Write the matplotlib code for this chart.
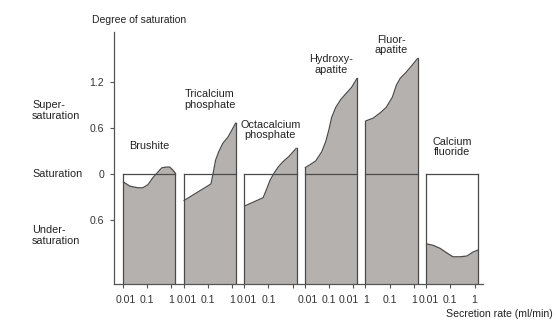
import matplotlib
matplotlib.use("Agg")
import matplotlib.pyplot as plt
from matplotlib.transforms import blended_transform_factory, ScaledTranslation
import numpy as np

plt.rcParams['font.family'] = ['Liberation Sans Narrow', 'Liberation Sans', 'DejaVu Sans']

# ---- data: log10(secretion rate) vs degree of saturation, per mineral ----
panel_names = ["Brushite", "Tricalcium\nphosphate", "Octacalcium\nphosphate",
               "Hydroxy-\napatite", "Fluor-\napatite", "Calcium\nfluoride"]

brushite_x = [-2.0, -1.71, -1.38, -1.18, -0.97, -0.77, -0.60, -0.40, -0.23, -0.07, 0.06, 0.16]
brushite_y = [-0.10, -0.16, -0.18, -0.18, -0.14, -0.05, 0.01, 0.08, 0.09, 0.09, 0.05, 0.01]

tricalcium_x = [-2.0, -0.87, -0.78, -0.68, -0.55, -0.38, -0.17, 0.04, 0.16]
tricalcium_y = [-0.35, -0.13, 0.01, 0.18, 0.29, 0.40, 0.48, 0.60, 0.67]

octacalcium_x = [-2.0, -1.22, -1.09, -0.93, -0.77, -0.60, -0.40, -0.15, 0.02, 0.16]
octacalcium_y = [-0.42, -0.31, -0.21, -0.08, 0.01, 0.09, 0.16, 0.23, 0.29, 0.34]

hydroxy_x = [-2.0, -1.79, -1.55, -1.30, -1.14, -1.01, -0.89, -0.72, -0.52, -0.27, -0.07, 0.16]
hydroxy_y = [0.08, 0.12, 0.17, 0.29, 0.42, 0.57, 0.74, 0.87, 0.97, 1.06, 1.13, 1.25]

fluor_x = [-2.0, -1.67, -1.38, -1.14, -0.89, -0.72, -0.56, -0.31, -0.07, 0.16]
fluor_y = [0.69, 0.73, 0.80, 0.87, 1.00, 1.16, 1.25, 1.33, 1.42, 1.51]

caf_x = [-2.0, -1.71, -1.42, -1.14, -0.89, -0.60, -0.31, -0.07, 0.16]
caf_y = [-0.91, -0.93, -0.97, -1.03, -1.08, -1.08, -1.07, -1.02, -0.99]

series_x = [brushite_x, tricalcium_x, octacalcium_x, hydroxy_x, fluor_x, caf_x]
series_y = [brushite_y, tricalcium_y, octacalcium_y, hydroxy_y, fluor_y, caf_y]

# tick labels per panel (at log10 rate -2, -1, 0), as printed
tick_labels = [["0.01", "0.1", "1"], ["0.01", "0.1", "1"], ["0.01", "0.1", ""],
               ["0.01", "0.1", "0.01"], ["1", "0.1", "1"], ["0.01", "0.1", "1"]]
tick_local = [-2, -1, 0]

ytick_vals = [1.2, 0.6, 0, -0.6]
ytick_labels = ["1.2", "0.6", "0", "0.6"]

# ---- figure ----
fig = plt.figure(figsize=(5.56, 3.30), dpi=100)
ax = fig.add_axes([114/556, 1-284/330, (483-114)/556, (284-32)/330])

ymin, ymax = -1.435, 1.852
panel_step = 2.5
fill_c = '#b5b1ae'
edge_c = '#4a4a4a'
lw = 0.9
label_ys = [0.37, 0.97, 0.57, 1.43, 1.68, 0.35]

xt, xl = [], []
for i, (xs, ys) in enumerate(zip(series_x, series_y)):
    off = i * panel_step
    gx = np.array(xs) + off
    gy = np.array(ys)
    ax.fill_between(gx, ymin, gy, color=fill_c, lw=0, zorder=1)
    ax.plot(gx, gy, color=edge_c, lw=lw, zorder=3, solid_capstyle='butt')
    # box outline: verticals and saturation line
    ax.plot([gx[0], gx[0]], [ymin, max(0, gy[0])], color=edge_c, lw=lw, zorder=3)
    ax.plot([gx[-1], gx[-1]], [ymin, max(0, gy[-1])], color=edge_c, lw=lw, zorder=3)
    ax.plot([gx[0], gx[-1]], [0, 0], color=edge_c, lw=lw, zorder=3)
    ax.text(off - 0.92, label_ys[i], panel_names[i], ha='center', va='center',
            fontsize=7.8, color='#222222', linespacing=1.05)
    for t, lab in zip(tick_local, tick_labels[i]):
        xt.append(off + t)
        xl.append(lab)

ax.set_xlim(-2.37, 12.85)
ax.set_ylim(ymin, ymax)
ax.set_xticks(xt)
ax.set_xticklabels(xl)
ax.set_yticks(ytick_vals)
ax.set_yticklabels(ytick_labels)
for s in ['top', 'right']:
    ax.spines[s].set_visible(False)
for s in ['left', 'bottom']:
    ax.spines[s].set_color('#555555')
    ax.spines[s].set_linewidth(0.9)
ax.tick_params(axis='both', length=3, width=0.8, color='#555555',
               labelsize=7.6, labelcolor='#333333', pad=3)
ax.tick_params(axis='y', pad=4)
ax.tick_params(axis='x', pad=5)

# nudge x tick labels so neighbouring panels' labels do not collide
fig.canvas.draw()
for k, lbl in enumerate(ax.get_xticklabels()):
    panel, pos = divmod(k, 3)
    dx = 0
    if pos == 0:
        dx = 3
    if panel == 3 and pos == 2:
        dx = -5
    if panel == 4 and pos == 0:
        dx = 1
    if dx:
        lbl.set_transform(lbl.get_transform() + ScaledTranslation(dx/100, 0, fig.dpi_scale_trans))

# side annotations
tr = blended_transform_factory(fig.transFigure, ax.transData)
ax.text(32/556, 0.83, "Super-\nsaturation", transform=tr, ha='left', va='center',
        fontsize=7.8, color='#222222', linespacing=1.05)
ax.text(32/556, 0.0, "Saturation", transform=tr, ha='left', va='center',
        fontsize=7.8, color='#222222')
ax.text(32/556, -0.80, "Under-\nsaturation", transform=tr, ha='left', va='center',
        fontsize=7.8, color='#222222', linespacing=1.05)

fig.text(92/556, 1-20/330, "Degree of saturation", ha='left', va='center',
         fontsize=7.5, color='#222222')
fig.text(553/556, 1-314/330, "Secretion rate (ml/min)", ha='right', va='center',
         fontsize=7.6, color='#222222')

fig.savefig("out.png", dpi=100)
